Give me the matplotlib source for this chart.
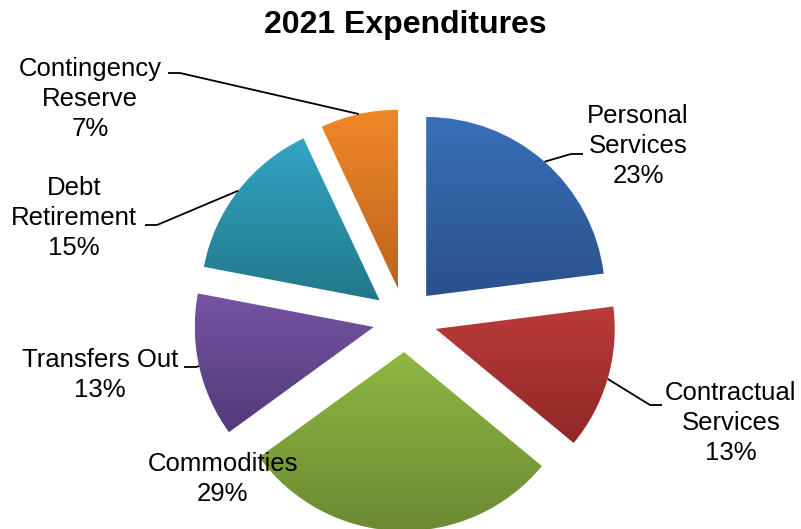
import numpy as np
import matplotlib
matplotlib.use("Agg")
import matplotlib.pyplot as plt
from matplotlib.colors import LinearSegmentedColormap

plt.rcParams['font.family'] = ['Liberation Sans', 'DejaVu Sans']

categories = ["Personal\nServices", "Contractual\nServices", "Commodities",
              "Transfers Out", "Debt\nRetirement", "Contingency\nReserve"]
shares = [23, 13, 29, 13, 15, 7]

# (top, bottom) colours for each wedge's vertical gradient
gradients = [("#3870b8", "#2a528c"),
             ("#ba3b38", "#912828"),
             ("#8fb843", "#6b8a32"),
             ("#7554a2", "#533a7a"),
             ("#33a5c2", "#22788c"),
             ("#f08828", "#bf621c")]

# label centres and leader-line ends in pixel space (y measured from the top)
label_pos = [(638, 146), (731, 423), (223, 479), (100, 375), (74, 218), (90, 99)]
leader_end = [(583, 154), (662, 405), None, (184, 367), (145, 225), (168, 73)]

W, H = 801, 529
fig = plt.figure(figsize=(W / 100, H / 100), dpi=100)
ax = fig.add_axes([0, 0, 1, 1])

radius = 179
center = (405, H - 320)
# pie() offsets exploded wedges in data units, here pixels
wedges, _ = ax.pie(shares, explode=[32] * len(shares), startangle=90,
                   counterclock=False, radius=radius, center=center,
                   wedgeprops=dict(linewidth=0))

ramp = np.linspace(0, 1, 256).reshape(-1, 1)
for w, (top, bottom) in zip(wedges, gradients):
    w.set_facecolor('none')
    ext = w.get_path().get_extents()
    cmap = LinearSegmentedColormap.from_list('g', [bottom, top])
    im = ax.imshow(ramp, cmap=cmap, origin='lower', aspect='auto',
                   extent=(ext.x0, ext.x1, ext.y0, ext.y1),
                   interpolation='bilinear', zorder=1)
    im.set_clip_path(w)

for w, name, pct, (lx, ly), end in zip(wedges, categories, shares,
                                       label_pos, leader_end):
    ax.text(lx, H - ly, f"{name}\n{pct}%", ha='center', va='center',
            multialignment='center', fontsize=18.5, linespacing=1.31,
            zorder=4)
    if end is None:
        continue
    mid = np.deg2rad((w.theta1 + w.theta2) / 2)
    sx = w.center[0] + w.r * np.cos(mid)
    sy = w.center[1] + w.r * np.sin(mid)
    ex, ey = end[0], H - end[1]
    step = 12 if ex > sx else -12
    ax.plot([sx, ex - step, ex], [sy, ey, ey], color='black', lw=1.3,
            zorder=3, solid_capstyle='butt')

ax.text(405, H - 25, "2021 Expenditures", ha='center', va='center',
        fontsize=23, fontweight='bold')

ax.set_xlim(0, W)
ax.set_ylim(0, H)
ax.set_aspect('auto')
ax.axis('off')

fig.savefig('out.png', dpi=100)
